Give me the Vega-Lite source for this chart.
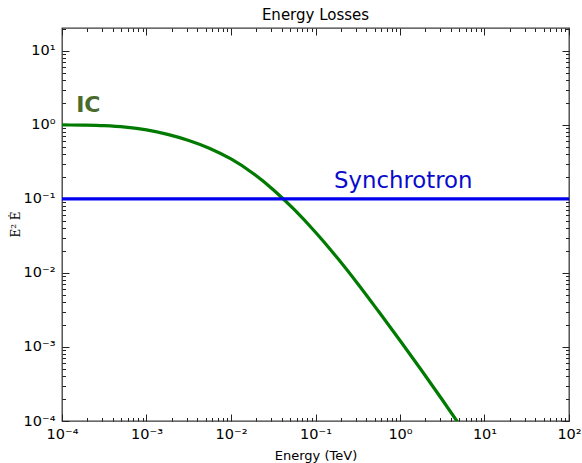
{
  "$schema": "https://vega.github.io/schema/vega-lite/v6.json",
  "autosize": "none",
  "padding": {"left": 62, "top": 28, "right": 13, "bottom": 42},
  "width": 507,
  "height": 393,
  "title": {"text": "Energy Losses", "fontSize": 15, "fontWeight": "normal", "font": "DejaVu Sans", "color": "#000", "offset": 7, "dy": 9},
  "config": {
    "font": "DejaVu Sans",
    "view": {"stroke": "#3a3a3a", "strokeWidth": 1.3}
  },
  "datasets": {
    "ic": [
      {"E": 0.0001, "y": 1.0},
      {"E": 0.0001778, "y": 0.9943},
      {"E": 0.0003162, "y": 0.9772},
      {"E": 0.0005623, "y": 0.9333},
      {"E": 0.001, "y": 0.8561},
      {"E": 0.001778, "y": 0.7454},
      {"E": 0.003162, "y": 0.6166},
      {"E": 0.005623, "y": 0.4815},
      {"E": 0.01, "y": 0.3467},
      {"E": 0.01778, "y": 0.2265},
      {"E": 0.03162, "y": 0.1334},
      {"E": 0.05623, "y": 0.07161},
      {"E": 0.1, "y": 0.03548},
      {"E": 0.1778, "y": 0.01641},
      {"E": 0.3162, "y": 0.007161},
      {"E": 0.5623, "y": 0.002985},
      {"E": 1.0, "y": 0.001225},
      {"E": 1.778, "y": 0.0004926},
      {"E": 3.162, "y": 0.0001939},
      {"E": 5.623, "y": 0.00007455}
    ],
    "sync": [
      {"E": 0.0001, "y": 0.1},
      {"E": 100, "y": 0.1}
    ],
    "icLabel": [{"E": 0.000147, "y": 1.5, "text": "IC"}],
    "syncLabel": [{"E": 0.166, "y": 0.141, "text": "Synchrotron"}]
  },
  "layer": [
    {
      "data": {"name": "ic"},
      "mark": {"type": "line", "color": "#007a00", "strokeWidth": 3.2, "clip": true, "interpolate": "monotone"},
      "encoding": {
        "x": {"field": "E", "type": "quantitative",
          "scale": {"type": "log", "domain": [0.0001, 100], "nice": false},
          "axis": {
            "orient": "bottom", "title": "Energy (TeV)", "titleFontSize": 13, "titleFontWeight": "normal", "titleColor": "#000",
            "titleY": 34, "titleBaseline": "middle",
            "domain": false, "grid": false,
            "values": [0.0001,0.0002,0.0003,0.0004,0.0005,0.0006,0.0007,0.0008,0.0009,0.001,0.002,0.003,0.004,0.005,0.006,0.007,0.008,0.009,0.01,0.02,0.03,0.04,0.05,0.06,0.07,0.08,0.09,0.1,0.2,0.3,0.4,0.5,0.6,0.7,0.8,0.9,1,2,3,4,5,6,7,8,9,10,20,30,40,50,60,70,80,90,100],
            "labelExpr": "abs(log(datum.value)/LN10 - round(log(datum.value)/LN10)) < 1e-6 ? ['10⁻⁴','10⁻³','10⁻²','10⁻¹','10⁰','10¹','10²'][round(log(datum.value)/LN10)+4] : ''",
            "labelFontSize": 14.5, "labelColor": "#000", "labelPadding": 13, "labelOverlap": false, "labelFlush": false,
            "tickColor": "#222", "tickWidth": 1,
            "tickSize": {"condition": {"test": "abs(log(datum.value)/LN10 - round(log(datum.value)/LN10)) < 1e-6", "value": -7}, "value": -3.5}
          }
        },
        "y": {"field": "y", "type": "quantitative",
          "scale": {"type": "log", "domain": [0.0001, 20.4], "nice": false},
          "axis": {
            "orient": "left", "title": "E² Ė", "titleFont": "DejaVu Serif", "titleFontSize": 12, "titleFontWeight": "normal", "titleColor": "#000",
            "titleX": -47, "titleY": 196, "titleAngle": 270, "titleAlign": "center", "titleBaseline": "middle",
            "domain": false, "grid": false,
            "values": [0.0001,0.0002,0.0003,0.0004,0.0005,0.0006,0.0007,0.0008,0.0009,0.001,0.002,0.003,0.004,0.005,0.006,0.007,0.008,0.009,0.01,0.02,0.03,0.04,0.05,0.06,0.07,0.08,0.09,0.1,0.2,0.3,0.4,0.5,0.6,0.7,0.8,0.9,1,2,3,4,5,6,7,8,9,10,20],
            "labelExpr": "abs(log(datum.value)/LN10 - round(log(datum.value)/LN10)) < 1e-6 ? ['10⁻⁴','10⁻³','10⁻²','10⁻¹','10⁰','10¹','10²'][round(log(datum.value)/LN10)+4] : ''",
            "labelFontSize": 14.5, "labelColor": "#000", "labelPadding": 14, "labelOverlap": false, "labelFlush": false,
            "tickColor": "#222", "tickWidth": 1,
            "tickSize": {"condition": {"test": "abs(log(datum.value)/LN10 - round(log(datum.value)/LN10)) < 1e-6", "value": -7}, "value": -3.5}
          }
        }
      }
    },
    {
      "data": {"name": "sync"},
      "mark": {"type": "line", "color": "#0000ee", "strokeWidth": 3.2, "clip": true},
      "encoding": {
        "x": {"field": "E", "type": "quantitative",
          "scale": {"type": "log", "domain": [0.0001, 100], "nice": false},
          "axis": {
            "orient": "top", "title": null, "labels": false, "domain": false, "grid": false,
            "values": [0.0001,0.0002,0.0003,0.0004,0.0005,0.0006,0.0007,0.0008,0.0009,0.001,0.002,0.003,0.004,0.005,0.006,0.007,0.008,0.009,0.01,0.02,0.03,0.04,0.05,0.06,0.07,0.08,0.09,0.1,0.2,0.3,0.4,0.5,0.6,0.7,0.8,0.9,1,2,3,4,5,6,7,8,9,10,20,30,40,50,60,70,80,90,100],
            "tickColor": "#222", "tickWidth": 1,
            "tickSize": {"condition": {"test": "abs(log(datum.value)/LN10 - round(log(datum.value)/LN10)) < 1e-6", "value": -7}, "value": -3.5}
          }
        },
        "y": {"field": "y", "type": "quantitative",
          "scale": {"type": "log", "domain": [0.0001, 20.4], "nice": false},
          "axis": {
            "orient": "right", "title": null, "labels": false, "domain": false, "grid": false,
            "values": [0.0001,0.0002,0.0003,0.0004,0.0005,0.0006,0.0007,0.0008,0.0009,0.001,0.002,0.003,0.004,0.005,0.006,0.007,0.008,0.009,0.01,0.02,0.03,0.04,0.05,0.06,0.07,0.08,0.09,0.1,0.2,0.3,0.4,0.5,0.6,0.7,0.8,0.9,1,2,3,4,5,6,7,8,9,10,20],
            "tickColor": "#222", "tickWidth": 1,
            "tickSize": {"condition": {"test": "abs(log(datum.value)/LN10 - round(log(datum.value)/LN10)) < 1e-6", "value": -7}, "value": -3.5}
          }
        }
      }
    },
    {
      "data": {"name": "icLabel"},
      "mark": {"type": "text", "align": "left", "baseline": "alphabetic", "fontSize": 22, "font": "DejaVu Sans", "fontWeight": "bold", "color": "#4a6b2c"},
      "encoding": {
        "x": {"field": "E", "type": "quantitative", "scale": {"type": "log", "domain": [0.0001, 100], "nice": false}, "axis": null},
        "y": {"field": "y", "type": "quantitative", "scale": {"type": "log", "domain": [0.0001, 20.4], "nice": false}, "axis": null},
        "text": {"field": "text"}
      }
    },
    {
      "data": {"name": "syncLabel"},
      "mark": {"type": "text", "align": "left", "baseline": "alphabetic", "fontSize": 22.8, "font": "DejaVu Sans", "fontWeight": "normal", "color": "#0a0acc"},
      "encoding": {
        "x": {"field": "E", "type": "quantitative", "scale": {"type": "log", "domain": [0.0001, 100], "nice": false}, "axis": null},
        "y": {"field": "y", "type": "quantitative", "scale": {"type": "log", "domain": [0.0001, 20.4], "nice": false}, "axis": null},
        "text": {"field": "text"}
      }
    }
  ],
  "resolve": {"axis": {"x": "independent", "y": "independent"}}
}
